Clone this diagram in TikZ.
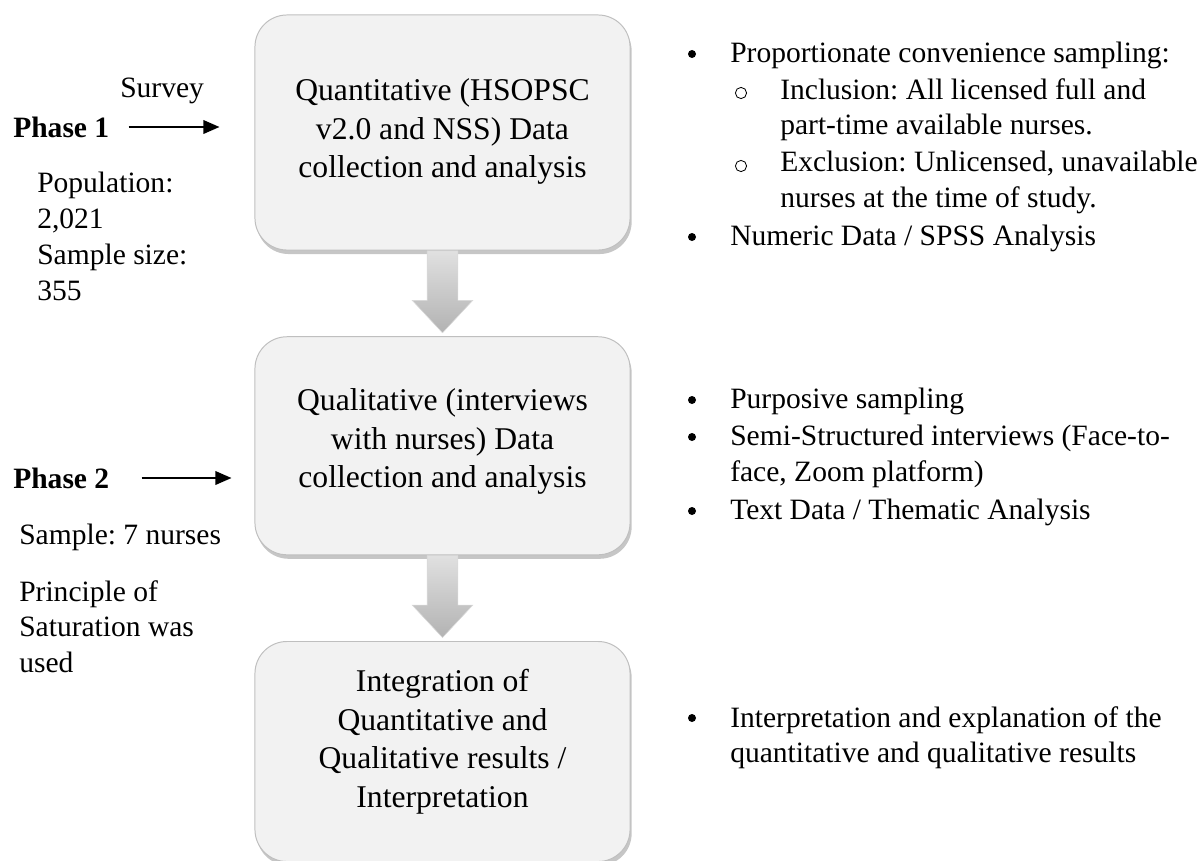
\documentclass[tikz,border=0pt]{standalone}
\usepackage{fontspec}
\setmainfont{Liberation Serif}
\usetikzlibrary{positioning,shapes.arrows,shadows,arrows.meta}
\frenchspacing

\newcommand\diagfont{\fontsize{21}{25.5}\selectfont}
\newcommand\stagefont{\fontsize{22.5}{27.4}\selectfont}

\tikzset{
  stagebox/.style={draw=black!25, line width=0.7pt, fill=black!5, rounded corners=0.8cm,
    minimum width=9.375cm,
    drop shadow={shadow xshift=0.04cm, shadow yshift=-0.1cm, fill=black!50, opacity=0.45}},
  stagetext/.style={align=center, font=\stagefont, inner sep=0pt},
  flowarrow/.style={single arrow, shape border rotate=270, draw=black!15, top color=black!12,
    bottom color=black!30, minimum width=1.5cm, minimum height=2.05cm,
    single arrow head extend=0.375cm, single arrow tip angle=86, inner sep=0.375cm},
  sidetext/.style={font=\diagfont, align=left, inner sep=0pt, anchor=north west},
  phaselabel/.style={font=\diagfont\bfseries, inner sep=0pt, anchor=west},
  phasearrow/.style={-{Triangle[length=0.4cm,width=0.34cm]}, line width=1.1pt}
}

\begin{document}
\begin{tikzpicture}[x=0.025cm, y=-0.025cm]
      \useasboundingbox (0,0) rectangle (1197,861);
      \node[stagebox, minimum height=5.875cm] (quant) at (442.5,132.5) {};
      \node[flowarrow, anchor=tail] (arr1) at (quant.south) {};
      \node[stagebox, minimum height=5.45cm, below=0.075cm of arr1.tip] (qual) {};
      \node[flowarrow, anchor=tail] (arr2) at (qual.south) {};
      \node[stagebox, minimum height=5.5cm, below=0.075cm of arr2.tip] (integ) {};
      \node[stagetext] (quanttext) at ([yshift=0.02cm]quant.center) {Quantitative (HSOPSC\\ v2.0 and NSS) Data\\ collection and analysis};
      \node[stagetext] (qualtext) at ([yshift=0.1cm]qual.center) {Qualitative (interviews\\ with nurses) Data\\ collection and analysis};
      \node[stagetext] (integtext) at ([yshift=0.25cm]integ.center) {Integration of\\ Quantitative and\\ Qualitative results /\\ Interpretation};

      \node[sidetext] (survey) at (120,78) {Survey};
      \node[phaselabel] (phase1) at (13,127) {Phase 1};
      \node[sidetext] (popul) at (37,172) {Population:\\ 2,021\\ Sample size:\\ 355};
      \node[phaselabel] (phase2) at (13,478) {Phase 2};
      \node[sidetext] (sample) at (19,524) {Sample: 7 nurses};
      \node[sidetext] (satur) at (19,580) {Principle of\\ Saturation was\\ used};
      \draw[phasearrow] ([xshift=0.475cm]phase1.east) -- ([xshift=-0.875cm]phase1.east -| quant.west);
      \draw[phasearrow] ([xshift=0.8cm]phase2.east) -- ([xshift=-0.575cm]phase2.east -| qual.west);

      \node[sidetext] (sampling) at (730,42) {Proportionate convenience sampling:};
      \node[sidetext] (incl) at (780,78) {Inclusion: All licensed full and\\ part-time available nurses.};
      \node[sidetext] (excl) at (780,151) {Exclusion: Unlicensed, unavailable\\ nurses at the time of study.};
      \node[sidetext] (numeric) at (730,225) {Numeric Data / SPSS Analysis};
      \node[sidetext] (purpos) at (730,388) {Purposive sampling};
      \node[sidetext] (semi) at (730,425) {Semi-Structured interviews (Face-to-\\ face, Zoom platform)};
      \node[sidetext] (textdata) at (730,499) {Text Data / Thematic Analysis};
      \node[sidetext] (interp) at (730,706) {Interpretation and explanation of the\\ quantitative and qualitative results};

      \foreach \y in {54,237,400,437,511,718}
        \fill (692,\y) circle (0.1cm);
      \foreach \y in {93,166}
        \draw[line width=0.6pt] (741,\y) circle (0.14cm);
   \end{tikzpicture}
\end{document}
